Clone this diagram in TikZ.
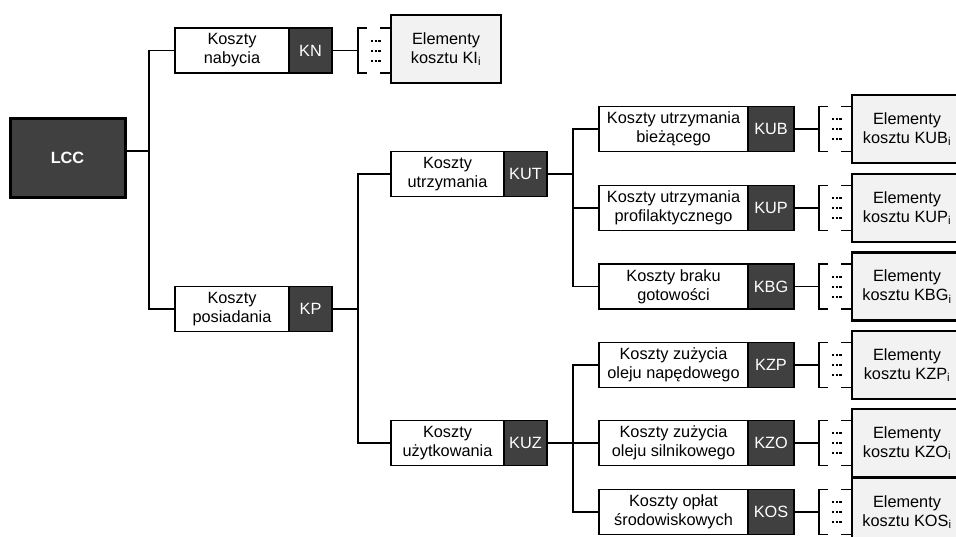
\documentclass[tikz,border=0pt]{standalone}
\usepackage{fontspec}
\setmainfont{Liberation Sans}
\definecolor{dk}{RGB}{64,64,64}
\definecolor{el}{RGB}{242,242,242}
\newcommand\bracketat[1]{%
 \draw[brk] ([xshift=9pt,yshift=22.5pt]#1) -- ([yshift=22.5pt]#1) -- ([yshift=-22.5pt]#1) -- ([xshift=9pt,yshift=-22.5pt]#1);
 \draw[brk] ([xshift=22pt,yshift=22.5pt]#1) -- ([xshift=33pt,yshift=22.5pt]#1);
 \draw[brk] ([xshift=22pt,yshift=-22.5pt]#1) -- ([xshift=33pt,yshift=-22.5pt]#1);
 \foreach \dy in {-10,0,10} \draw[dots] ([xshift=13pt,yshift=\dy pt]#1) -- ++(10pt,0pt);
}
\newcommand\rowthree[3]{%
 \node[wbox, minimum width=149pt] (w#1) at (673.5,#2) {#3};
 \node[cbox, minimum width=46pt] (#1) at (771,#2) {#1};
 \node[elem] (e#1) at (907,#2) {Elementy\\kosztu #1\textsubscript{i}};
 \coordinate (b#1) at (819,#2);
 \draw[conn] (#1.east) -- (b#1);
 \bracketat{b#1}%
}
\begin{document}
\begin{tikzpicture}[x=1pt,y=-1pt,
 every node/.style={font=\fontsize{16.3}{19}\selectfont},
 conn/.style={line width=1.7pt, black},
 brk/.style={line width=1.4pt, black},
 wbox/.style={draw, line width=1.7pt, fill=white, inner sep=0pt, minimum height=45pt, align=center},
 cbox/.style={draw, line width=1.7pt, fill=dk, text=white, inner sep=0pt, minimum height=45pt},
 elem/.style={draw, line width=2.2pt, fill=el, inner sep=0pt, minimum width=110pt, minimum height=68pt, align=center},
 root/.style={draw, line width=3pt, fill=dk, text=white, font=\fontsize{16.3}{19}\selectfont\bfseries, minimum width=115pt, minimum height=79pt},
 dots/.style={line width=2pt, dash pattern=on 2.4pt off 1.3pt}
]
\clip (0,0) rectangle (956,536);
\fill[white] (0,0) rectangle (956,536);

% root
\node[root] (LCC) at (67.5,157.5) {LCC};

% level 1
\node[wbox, minimum width=114pt] (nab) at (232,50.5) {Koszty\\nabycia};
\node[cbox, minimum width=43pt] (KN) at (310.5,50.5) {KN};
\node[wbox, minimum width=114pt] (pos) at (232,309) {Koszty\\posiadania};
\node[cbox, minimum width=43pt] (KP) at (310.5,309) {KP};

\node[elem] (eKI) at (446,49) {Elementy\\kosztu KI\textsubscript{i}};
\coordinate (bKI) at (358,50.5);
\draw[conn] (KN.east) -- (bKI);
\bracketat{bKI}

% level 2
\node[wbox, minimum width=113pt] (utr) at (447.5,174) {Koszty\\utrzymania};
\node[cbox, minimum width=43pt] (KUT) at (525.5,174) {KUT};
\node[wbox, minimum width=113pt] (uzy) at (447.5,443) {Koszty\\użytkowania};
\node[cbox, minimum width=43pt] (KUZ) at (525.5,443) {KUZ};

% level 3
\rowthree{KUB}{129}{Koszty utrzymania\\bieżącego}
\rowthree{KUP}{208}{Koszty utrzymania\\profilaktycznego}
\rowthree{KBG}{286.5}{Koszty braku\\gotowości}
\rowthree{KZP}{365}{Koszty zużycia\\oleju napędowego}
\rowthree{KZO}{443}{Koszty zużycia\\oleju silnikowego}
\rowthree{KOS}{512}{Koszty opłat\\środowiskowych}

% junctions
\coordinate (j0) at (149,151);
\coordinate (j1) at (358,309);
\coordinate (j2) at (573,174);
\coordinate (j3) at (573,443);

\draw[conn] (LCC.east |- j0) -- (j0);
\draw[conn] (nab.west) -| (j0) |- (pos.west);
\draw[conn] (KP.east) -- (j1);
\draw[conn] (utr.west) -| (j1) |- (uzy.west);
\draw[conn] (KUT.east) -- (j2);
\draw[conn] (wKUB.west) -| (j2) |- (wKBG.west);
\draw[conn] (wKUP.west) -- (wKUP.west -| j2);
\draw[conn] (KUZ.east) -- (j3);
\draw[conn] (wKZP.west) -| (j3) |- (wKOS.west);
\draw[conn] (wKZO.west) -- (j3);
\end{tikzpicture}
\end{document}
